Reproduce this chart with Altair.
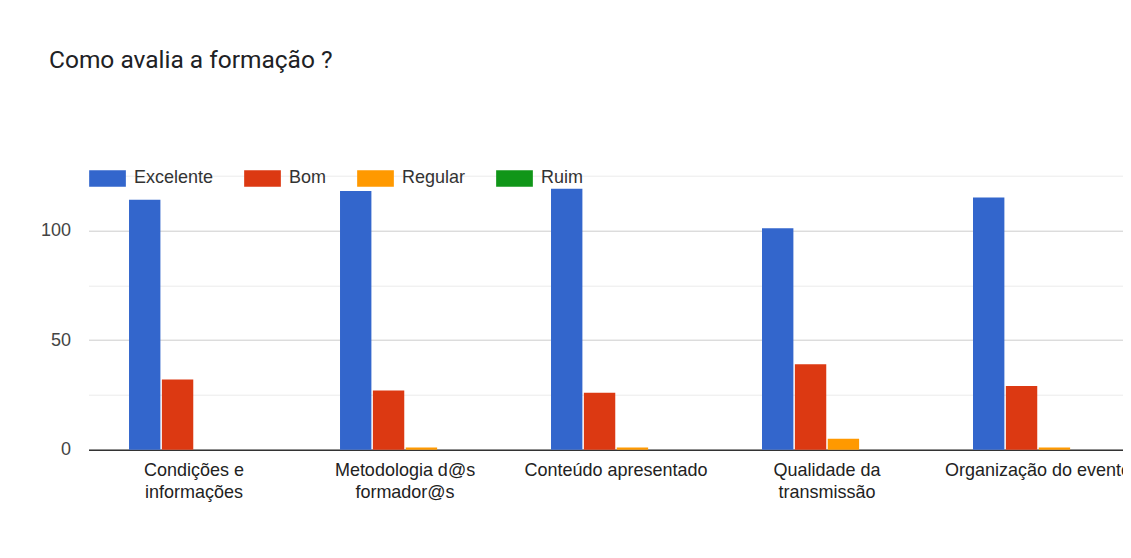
import altair as alt
import pandas as pd

categories = ["Condições e informações", "Metodologia d@s formador@s",
              "Conteúdo apresentado", "Qualidade da transmissão",
              "Organização do evento"]
label_lines = ["Condições e|informações", "Metodologia d@s|formador@s",
               "Conteúdo apresentado", "Qualidade da|transmissão",
               "Organização do evento"]
series = ["Excelente", "Bom", "Regular", "Ruim"]
colors = ["#3366cc", "#dc3912", "#ff9900", "#109618"]
excelente = [114, 118, 119, 101, 115]
bom = [32, 27, 26, 39, 29]
regular = [0, 1, 1, 5, 1]
ruim = [0, 0, 0, 0, 0]
y_ticks = [0, 25, 50, 75, 100, 125]

values = {"Excelente": excelente, "Bom": bom, "Regular": regular, "Ruim": ruim}
rows = []
for s in series:
    for c, v in zip(categories, values[s]):
        rows.append({"categoria": c, "resposta": s, "valor": v})
df = pd.DataFrame(rows)

label_map = {c: l for c, l in zip(categories, label_lines)}
label_expr = "split({" + ",".join(f"'{c}':'{l}'" for c, l in label_map.items()) + "}[datum.label], '|')"

FONT = "Liberation Sans"
STEP_RANGE = 1055  # full band range; the chart is cut at the window edge

chart = alt.Chart(df).mark_bar().encode(
    x=alt.X("categoria:N", sort=categories, title=None,
            scale=alt.Scale(paddingInner=0.384, paddingOuter=0.192,
                            range=[0, STEP_RANGE]),
            axis=alt.Axis(labelAngle=0, labelFont=FONT, labelFontSize=18,
                          labelColor="#222222", labelPadding=12,
                          labelLineHeight=22, labelExpr=label_expr,
                          ticks=False, domainColor="#333333", domainWidth=1.5,
                          labelLimit=400)),
    xOffset=alt.XOffset("resposta:N", sort=series,
                        scale=alt.Scale(paddingInner=0.045)),
    y=alt.Y("valor:Q", title=None,
            scale=alt.Scale(domain=[0, 125], nice=False),
            axis=alt.Axis(values=y_ticks, domain=False, ticks=False,
                          labelFont=FONT, labelFontSize=18, labelColor="#444444",
                          labelPadding=18,
                          labelExpr="datum.value % 50 === 0 ? datum.label : ''",
                          gridColor={"condition": {"test": "datum.value % 50 === 0",
                                                   "value": "#cccccc"},
                                     "value": "#ebebeb"},
                          gridWidth=1)),
    color=alt.Color("resposta:N", sort=series, title=None,
                    scale=alt.Scale(domain=series, range=colors),
                    legend=alt.Legend(orient="none", direction="horizontal",
                                      legendX=0.5, legendY=-16,
                                      symbolType="M-1,-0.45H1V0.45H-1Z",
                                      symbolSize=1347, symbolStrokeWidth=0,
                                      labelFont=FONT, labelFontSize=18,
                                      labelColor="#333333", labelOffset=8,
                                      columnPadding=30, padding=0)),
).properties(
    width=1034,
    height=274,
    autosize=alt.AutoSizeParams(type="none"),
    padding={"left": 80.5, "top": 167.7, "right": 0, "bottom": 90},
    title=alt.TitleParams("Como avalia a formação ?", anchor="start",
                          font="Roboto", fontSize=24.5, fontWeight="normal",
                          color="#202124", dx=8.5, offset=86),
).configure_view(stroke=None)

chart.save("out.html", embed_options={"renderer": "svg", "actions": False})
